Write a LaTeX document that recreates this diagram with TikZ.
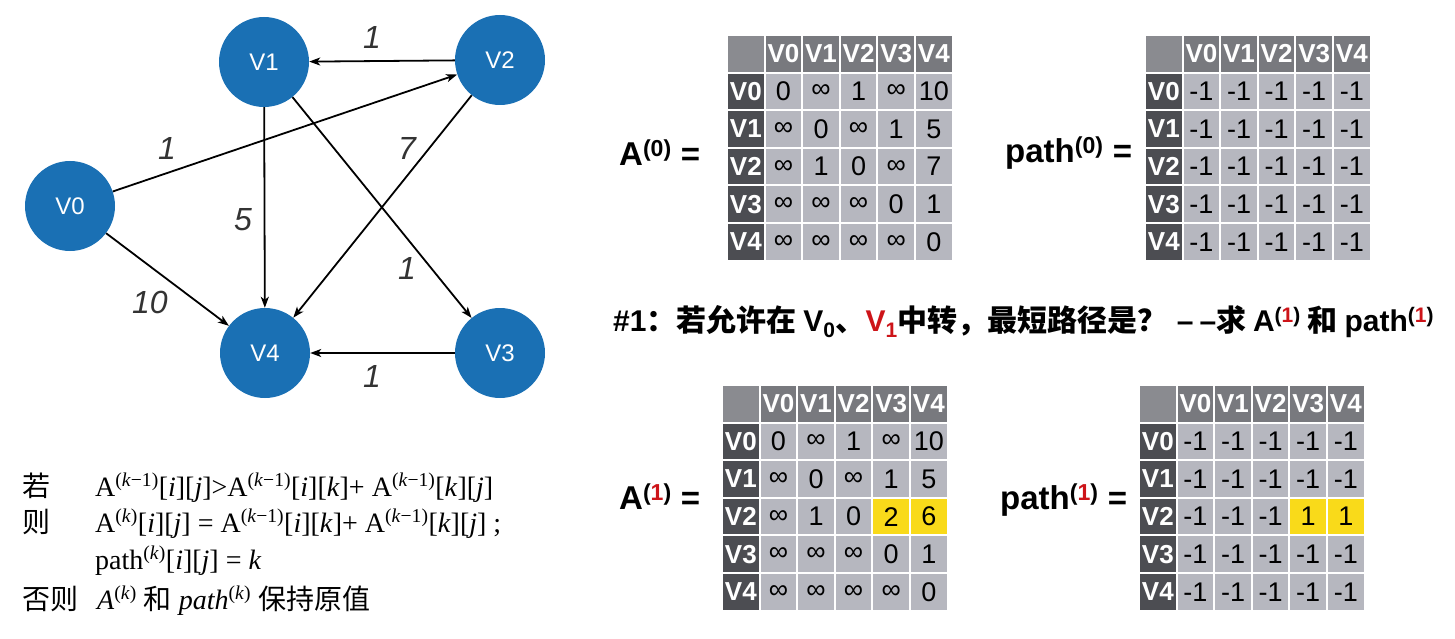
\documentclass[tikz,border=0pt]{standalone}
\usepackage{fontspec}
\setmainfont{Liberation Serif}
\setsansfont{Liberation Sans}
\newfontfamily\cjk{Noto Sans CJK SC}
\usetikzlibrary{arrows.meta}
\definecolor{nodeblue}{RGB}{26,112,180}
\definecolor{cornergray}{RGB}{138,139,144}
\definecolor{headgray}{RGB}{120,121,126}
\definecolor{rowgray}{RGB}{76,77,82}
\definecolor{cellgray}{RGB}{182,183,191}
\definecolor{hlyellow}{RGB}{249,218,26}
\definecolor{redtxt}{RGB}{205,20,25}
\newcommand\fs[1]{\fontsize{#1}{#1}\selectfont}
\newcommand\drawmat[4]{%
  \node[cellbox, fill=cornergray] (#1-c) at (#2+18.8, #3+18.8) {};
  \foreach \h [count=\c] in {V0,V1,V2,V3,V4} {
    \node[cellbox, fill=headgray, headtxt] (#1-h\c) at (#2+18.8+\c*37.6, #3+18.8) {\h};
    \node[cellbox, fill=rowgray, headtxt] (#1-r\c) at (#2+18.8, #3+18.8+\c*37.6) {\h};
  }
  \foreach \row [count=\r] in {#4} {
    \foreach \v [count=\c] in \row {
      \node[cellbox, fill=cellgray, celltxt] (#1-\r-\c) at (#2+18.8+\c*37.6, #3+18.8+\r*37.6) {\v};
    }
  }%
}
\begin{document}
\begin{tikzpicture}[x=1pt,y=-1pt,
  vert/.style={circle, fill=nodeblue, minimum size=90pt, inner sep=0pt, text=white, font=\sffamily\fs{24}},
  arc/.style={-{Stealth[length=11pt,width=8pt,inset=3pt]}, line width=1.8pt},
  wlabel/.style={font=\sffamily\itshape\fs{32}, inner sep=0pt, text=black!80},
  cellbox/.style={minimum width=35.6pt, minimum height=35.6pt, inner sep=0pt, anchor=center},
  headtxt/.style={text=white, font=\sffamily\bfseries\fs{26}},
  celltxt/.style={text=black, font=\sffamily\fs{27}},
  eqlabel/.style={font=\sffamily\bfseries\fs{33}, inner sep=0pt},
  ftxt/.style={anchor=base west, inner sep=0pt, font=\fs{28}},
]
\useasboundingbox (0,0) rectangle (1455,639);

% graph
\node[vert] (V0) at (70,206) {V0};
\node[vert] (V1) at (264,62) {V1};
\node[vert] (V2) at (500,60) {V2};
\node[vert] (V3) at (500,353) {V3};
\node[vert] (V4) at (265,353) {V4};

\draw[arc] (V2) -- (V1);
\draw[arc] (V0) -- (V2);
\draw[arc] (V1) -- (V4);
\draw[arc] (V1) -- (V3);
\draw[arc] (V2) -- (V4);
\draw[arc] (V0) -- (V4);
\draw[arc] (V3) -- (V4);

\node[wlabel] (w21) at (372,37) {1};
\node[wlabel] (w02) at (167,148) {1};
\node[wlabel] (w14) at (243,220) {5};
\node[wlabel] (w24) at (407,148) {7};
\node[wlabel] (w13) at (407,268) {1};
\node[wlabel] (w04) at (150,302) {10};
\node[wlabel] (w34) at (372,376) {1};

% matrices
\drawmat{A0}{727}{35}{{0,∞,1,∞,10},{∞,0,∞,1,5},{∞,1,0,∞,7},{∞,∞,∞,0,1},{∞,∞,∞,∞,0}}
\drawmat{P0}{1145}{35}{{-1,-1,-1,-1,-1},{-1,-1,-1,-1,-1},{-1,-1,-1,-1,-1},{-1,-1,-1,-1,-1},{-1,-1,-1,-1,-1}}
\drawmat{A1}{722}{385}{{0,∞,1,∞,10},{∞,0,∞,1,5},{∞,1,0,2,6},{∞,∞,∞,0,1},{∞,∞,∞,∞,0}}
\drawmat{P1}{1139}{385}{{-1,-1,-1,-1,-1},{-1,-1,-1,-1,-1},{-1,-1,-1,1,1},{-1,-1,-1,-1,-1},{-1,-1,-1,-1,-1}}
\node[cellbox, fill=hlyellow, celltxt] (A1-3-4h) at (A1-3-4) {2};
\node[cellbox, fill=hlyellow, celltxt] (A1-3-5h) at (A1-3-5) {6};
\node[cellbox, fill=hlyellow, celltxt] (P1-3-4h) at (P1-3-4) {1};
\node[cellbox, fill=hlyellow, celltxt] (P1-3-5h) at (P1-3-5) {1};

\node[eqlabel, anchor=west] (lA0) at (619,153) {A\textsuperscript{(0)} =};
\node[eqlabel, anchor=west] (lP0) at (1005,153) {path\textsuperscript{(0)} =};
\node[eqlabel, anchor=west] (lA1) at (619,497) {A\textsuperscript{(\textcolor{redtxt}{1})} =};
\node[eqlabel, anchor=west] (lP1) at (1000,500) {path\textsuperscript{(\textcolor{redtxt}{1})} =};

% middle line
\node[font=\sffamily\bfseries\fs{30}, inner sep=0pt, anchor=west] (mid) at (613,322)
  {\#1{\cjk\bfseries ：若允许在 }V\textsubscript{0}{\cjk\bfseries 、}\textcolor{redtxt}{V\textsubscript{1}}{\cjk\bfseries 中转，最短路径是？}\hspace{0.3em}–\hspace{0.2em}–{\cjk\bfseries 求 }A\textsuperscript{(\textcolor{redtxt}{1})}{\cjk\bfseries\ 和 }path\textsuperscript{(\textcolor{redtxt}{1})}};

% rule text
\node[ftxt] (r1a) at (22,496) {\cjk 若};
\node[ftxt] (r1b) at (95,496) {A\textsuperscript{(\textit{k}−1)}[\textit{i}][\textit{j}]>A\textsuperscript{(\textit{k}−1)}[\textit{i}][\textit{k}]+ A\textsuperscript{(\textit{k}−1)}[\textit{k}][\textit{j}]};
\node[ftxt] (r2a) at (22,532) {\cjk 则};
\node[ftxt] (r2b) at (95,532) {A\textsuperscript{(\textit{k})}[\textit{i}][\textit{j}] = A\textsuperscript{(\textit{k}−1)}[\textit{i}][\textit{k}]+ A\textsuperscript{(\textit{k}−1)}[\textit{k}][\textit{j}] ;};
\node[ftxt] (r3b) at (95,569) {path\textsuperscript{(\textit{k})}[\textit{i}][\textit{j}] = \textit{k}};
\node[ftxt] (r4a) at (22,609) {\cjk 否则};
\node[ftxt] (r4b) at (97,609) {\textit{A}\textsuperscript{(\textit{k})} {\cjk 和} \textit{path}\textsuperscript{(\textit{k})} {\cjk 保持原值}};
\end{tikzpicture}
\end{document}
